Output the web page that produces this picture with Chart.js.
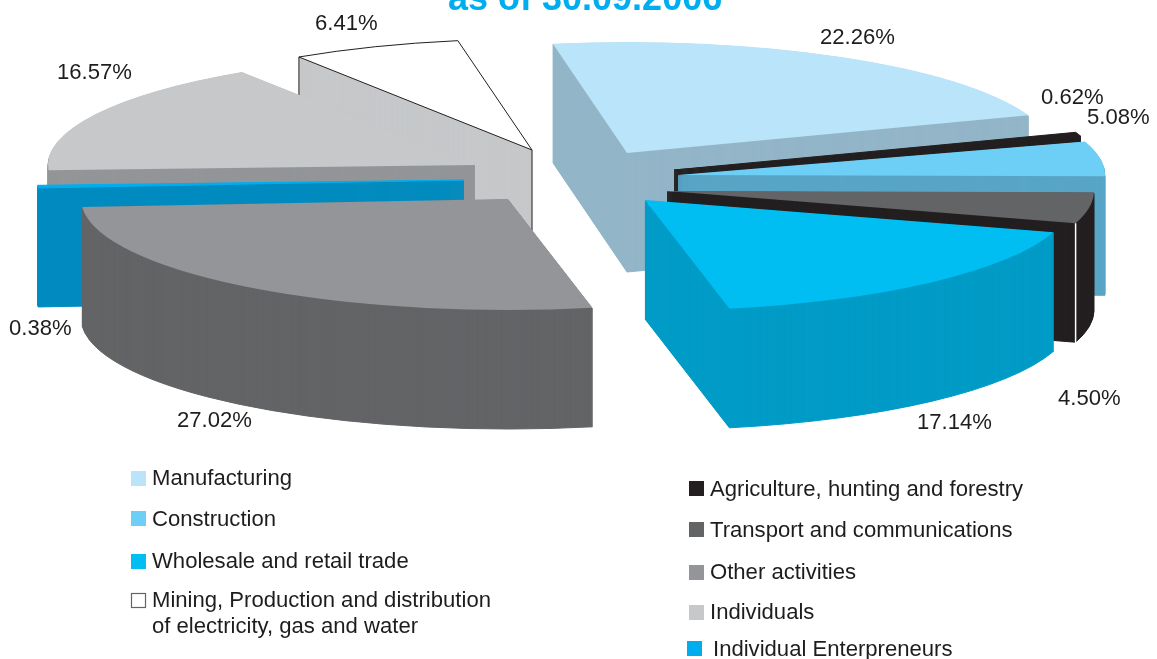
<!DOCTYPE html>
<html>
<head>
<meta charset="utf-8">
<style>html,body{margin:0;padding:0;background:#fff;overflow:hidden}canvas{display:block}</style>
<script src="https://cdn.jsdelivr.net/npm/chart.js@4/dist/chart.umd.min.js"></script>
</head>
<body>
<canvas id="c" width="1157" height="659"></canvas>
<script>
// ---- data ----
const categories = ['Manufacturing','Agriculture, hunting and forestry','Construction','Transport and communications','Wholesale and retail trade','Other activities','Individual Enterpreneurs','Individuals','Mining, Production and distribution of electricity, gas and water'];
const shares = [22.26,0.62,5.08,4.50,17.14,27.02,0.38,16.57,6.41];
const chartTitle = 'as of 30.09.2006';

// ---- styles ----
const topColors  = ['#b9e4f9','#231f20','#6dcff6','#636466','#00bdf2','#939598','#00aeef','#c7c8ca','#ffffff'];
const wallColors = ['#93b5c8','#231f20','#58a5c6','#231f20','#009bc6','#636466','#008bc0','#939598','#c6c8ca'];
const apexX = [627,674,678,667,645,508,464,475,532];
const apexY = [153,170,175,191,200,199,180,165,150];
const paintOrder = [8,7,6,5,0,1,2,3,4];
const labelX = [820,1041,1087,1058,917,177,9,57,315];
const labelY = [44,104,124,405,429,427,335,79,30];
const SQUASH = 0.26, DEPTH = 119, FONT = '"Liberation Sans", Arial, sans-serif';

// legend layout: category index, swatch x/y, text x, baseline, text lines
const legendLayout = [
  [0,131,471,152,485,['Manufacturing']],
  [2,131,511,152,526,['Construction']],
  [4,131,554,152,568,['Wholesale and retail trade']],
  [8,131,593,152,607,['Mining, Production and distribution','of electricity, gas and water']],
  [1,689,481,710,496,['Agriculture, hunting and forestry']],
  [3,689,522,710,537,['Transport and communications']],
  [5,689,565,710,579,['Other activities']],
  [7,689,605,710,619,['Individuals']],
  [6,687,641,713,656,['Individual Enterpreneurs']]
];

const pie3d = {
  id:'pie3d',
  beforeDatasetDraw(chart){
    const ctx = chart.ctx, arcs = chart.getDatasetMeta(0).data;
    // wedge outline from the arc element, squashed and moved to its apex;
    // filled and stroked in an unsquashed pen so thin wedges stay solid
    const wedge = (arc,i,d,color,pen)=>{
      ctx.save();
      ctx.translate(apexX[i], apexY[i]+d);
      ctx.scale(1,SQUASH);
      ctx.beginPath();
      ctx.moveTo(0,0);
      ctx.arc(0,0,arc.outerRadius,arc.startAngle,arc.endAngle);
      ctx.closePath();
      ctx.restore();
      ctx.fillStyle=color;ctx.fill();
      if(pen>0){ctx.strokeStyle=color;ctx.lineWidth=pen;ctx.lineJoin='miter';ctx.stroke();}
    };
    const corner = (arc,i,a)=>[apexX[i]+arc.outerRadius*Math.cos(a), apexY[i]+SQUASH*arc.outerRadius*Math.sin(a)];
    const vline = (x,y,len,color,w)=>{
      ctx.save();ctx.strokeStyle=color;ctx.lineWidth=w;ctx.beginPath();ctx.moveTo(x,y);ctx.lineTo(x,y+len);ctx.stroke();ctx.restore();
    };
    ctx.save();
    paintOrder.forEach(i=>{
      const arc = arcs[i];
      for(let d=DEPTH;d>=1;d--) wedge(arc,i,d,wallColors[i],1);
      if(i===8){
        wedge(arc,i,0,topColors[i],0);
        ctx.strokeStyle='#231f20';ctx.lineWidth=1;ctx.stroke();
        const p = corner(arc,i,arc.startAngle);
        vline(p[0],p[1],DEPTH,'#231f20',1);
        vline(apexX[i],apexY[i],DEPTH,'#231f20',1);
      }else{
        wedge(arc,i,0,topColors[i],(i===1||i===6)?1:0);
      }
      if(i===3){
        const p = corner(arc,i,arc.endAngle);
        vline(p[0],p[1],DEPTH+1,'#ffffff',1.5);
      }
    });
    ctx.restore();
    return false;
  },
  afterDraw(chart){
    const ctx = chart.ctx;
    ctx.save();
    ctx.textAlign='left';ctx.textBaseline='alphabetic';
    ctx.fillStyle='#00aeef';ctx.font='bold 36px '+FONT;
    ctx.fillText(chartTitle,448,10);
    ctx.fillStyle='#1f1c1d';ctx.font='22.1px '+FONT;
    shares.forEach((v,i)=>ctx.fillText(v.toFixed(2)+'%',labelX[i],labelY[i]));
    legendLayout.forEach(([i,sx,sy,tx,ty,lines])=>{
      if(i===8){
        ctx.strokeStyle='#636466';ctx.lineWidth=1.2;ctx.strokeRect(sx+.5,sy+.5,14,14);
      }else{
        ctx.fillStyle=topColors[i];ctx.fillRect(sx,sy,15,15);
      }
      ctx.fillStyle='#1f1c1d';
      lines.forEach((t,k)=>ctx.fillText(t,tx,ty+k*26));
    });
    ctx.restore();
  }
};

new Chart(document.getElementById('c'),{
  type:'pie',
  data:{labels:categories,datasets:[{data:shares,backgroundColor:topColors,borderWidth:0}]},
  options:{
    responsive:false,animation:false,devicePixelRatio:1,events:[],
    radius:427,rotation:-10,
    layout:{padding:0},
    plugins:{legend:{display:false},tooltip:{enabled:false},title:{display:false}}
  },
  plugins:[pie3d]
});
</script>
</body>
</html>
